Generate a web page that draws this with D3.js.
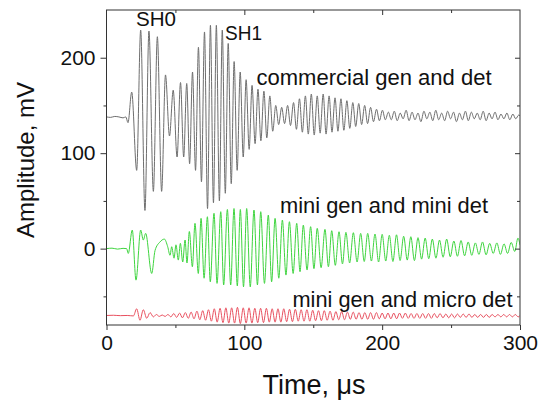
<!DOCTYPE html>
<html><head><meta charset="utf-8">
<script src="https://cdn.jsdelivr.net/npm/d3@7"></script>
<style>
html,body{margin:0;padding:0;background:#fff;}
text{font-family:"Liberation Sans",Arial,sans-serif;fill:#111;}
</style></head>
<body><svg id="chart" width="542" height="401"></svg>
<script>
// ---- data (time in µs, amplitude in mV) ----
const xTicks = [0, 100, 200, 300];
const xMinorTicks = [50, 150, 250];
const yTicks = [0, 100, 200];
const yMinorTicks = [-50, 50, 150];

const commercial = [
[0,138],[3,137.5],[6,138.5],[9,138],[12,137],[14,138],[15.6,132],
[18.3,164],[21.9,82],[24.8,229],[27.9,40],[30.8,228],[34.0,60],[36.9,222],[40.0,60],[42.8,182],[45.7,118],[48.4,166],[51.2,96],[53.7,174],[56.0,96],[58.2,173],[60.3,89],[62.4,185],[64.6,82],[66.7,211],[68.9,70],[71.1,227],[73.3,42],[75.4,234],[77.6,48],[79.7,234],[81.9,50],[84.0,229],[86.2,58],[88.3,215],[90.5,68],[92.6,196],[94.8,82],[97.0,185],[99.2,96],[101.3,177],[103.5,104],[105.6,171],[107.8,110],[109.9,167],[112.0,113],[114.2,165],[116.3,116],[118.5,160],[120.6,123],
[122.8,150],[124.9,130],[127.1,148],[129.2,131],[131.4,150],[133.5,129],[135.7,153],[137.8,125],
[140.0,157],[142.1,122],[144.3,160],[146.4,120],[148.6,162],[150.7,119],[152.9,160],[155.0,121],[157.2,162],[159.3,120],[161.5,160],[163.6,122],[165.8,158],[167.9,123],[170.1,157],[172.2,124],[174.4,155],[176.5,126],[178.7,153],[180.8,128],[183.0,152],[185.1,130],
[187.3,150],[189.4,131],[191.6,148],[193.7,133],[195.9,146],[198.0,134],[200.2,145],[202.3,135],
[204.5,143],[206.6,135],[208.8,144],[210.9,134],[213.1,142],[215.2,136],[217.4,145],[219.5,134],[221.7,143],[223.8,135],[226.0,142],[228.1,133],[230.3,144],[232.4,136],[234.6,143],[236.7,134],[238.9,145],[241.0,135],[243.2,142],[245.3,134],[247.5,144],[249.6,136],[251.8,143],[253.9,133],[256.1,142],[258.2,135],[260.4,144],[262.5,134],[264.7,143],[266.8,136],[269.0,142],[271.1,135],[273.3,144],[275.4,134],[277.6,142],[279.7,136],[281.9,143],[284.0,135],[286.2,141],[288.3,136],[290.5,142],[292.6,135],[294.8,141],[296.9,136],[299.1,140],[300,139]
];

const miniMini = [
[0,0],[4,0.5],[8,-0.5],[12,0.3],[14.6,0],[15.8,-5],[18.7,19.5],[21.4,-33],[24.8,19.5],[26.7,9],[28.4,16],[32.8,-26],[35.2,-2],[38.8,7],[42,10],[44.4,2],[46.1,-7],[47.3,2],[49,-10],[50.4,4],[52.1,-12],[53.6,5.5],[55.3,-14],[57,9],[58.4,-15],[60.1,18],[62.3,-19],[64.2,26.5],[66.6,-26],[68.6,31.7],[70.8,-31],[73.2,33.4],[75.3,-34.7],[78,37],[80.2,-36.4],[82.9,38.7],[85,-38],[87.7,41],[90.1,-38],[92.5,42],[94.9,-39],[97.1,41],[99.4,-40],[101.7,42],[104.3,-40],[107,40.4],[109.5,-38],[111.9,38.7],[114.6,-36.4],[117.4,35.2],[119.8,-34.7],[122.3,31.7],[125,-31],[127.6,30],[130.2,-27.7],[132.7,28.2],[135.4,-26],[138,26.5],[140.4,-24.2],[142.8,24.7],[145.5,-22.4],[148.1,23],[150.5,-21],[152.9,21.3],[155.7,-20],[158.5,20.2],[161,-19],[163.4,18.8],[166,-17.5],[168.7,17.7],[171.2,-16],[173.7,17.1],[176.4,-15],[179.1,16.7],[181.8,-14],[184.4,16],[187,-13.5],[189.5,16],[192.2,-13],[194.8,15.3],
[197.4,-14],[200,15],[202.6,-13],[205.2,14],[207.8,-13.5],[210.4,14.5],[213,-12.5],[215.6,13],[218.2,-12],[220.8,12.5],[223.4,-12.5],[226,11.5],[228.6,-11],[231.2,11],[233.8,-10.5],[236.4,10],[239,-10],[241.6,9],[244.2,-9],[246.8,10],[249.4,-8.5],[252,8],[254.6,-8],[257.2,8.5],[259.8,-7.5],[262.4,7],[265,-7],[267.6,6],[270.2,-6],[272.8,7],[275.4,-6.5],[278,5.5],[280.6,-5],[283.2,6],[285.8,-6],[288.4,5],[291,-5],[293.6,6.5],[296.2,-3],[298.5,11],[300,4]
];

const miniMicro = [
[0,-70],[5,-69.8],[10,-70.2],[15,-70],[19.5,-70.5],[21.9,-63],[24.3,-75],[26.7,-64],[29.2,-73],[31.6,-67],[34,-71.5],[36.2,-69],[38.3,-71],[40.4,-69.5],[42.5,-71],[44.6,-69],[46.7,-71.5],[48.8,-68],[50.9,-72],[53,-67.5],[55.1,-72.5],[57.2,-67],[59.3,-73],[61.4,-66.5],[63.5,-73.5],[65.6,-65.5],[67.7,-74.5],[69.8,-65],[71.9,-75],[74,-64],[76.1,-76],[78.2,-63],[80.3,-77],[82.4,-62.5],[84.5,-77.5],[86.6,-62],[88.7,-78],[90.8,-62],[92.9,-78],[95,-61.5],[97.1,-78.5],[99.2,-62],[101.3,-78],[103.4,-62],[105.5,-78],[107.6,-62.5],[109.7,-77.5],[111.8,-62.5],[113.9,-77.5],[116,-62.5],[118.1,-77],[120.2,-63],[122.3,-77],[124.4,-63],[126.5,-77],[128.6,-63],[130.7,-76.5],[132.8,-63.5],[134.9,-76.5],[137,-63.5],[139.1,-76],[141.2,-64],[143.3,-76],[145.4,-64],[147.5,-76],[149.6,-64.5],[151.7,-75.5],[153.8,-65],[155.9,-75.5],[158,-65],[160.1,-75],[162.2,-65.5],[164.3,-75],[166.4,-66],[168.5,-74.5],[170.6,-66],[172.7,-74.5],[174.8,-66.5],[176.9,-74],[179,-66.5],[181.1,-74],[183.2,-67],[185.3,-74],[187.4,-67],[189.5,-74],[191.6,-67],[193.7,-74],[195.8,-67],[197.9,-73.5],[200,-67.5],[202.1,-73.5],[204.2,-67.5],[206.3,-73.5],[208.4,-67.5],[210.5,-73.5],[212.6,-67.5],[214.7,-73],[216.8,-67.5],[218.9,-73],[221,-68],[223.1,-73],[225.2,-68],[227.3,-73],[229.4,-68],[231.5,-73],[233.6,-68],[235.7,-73],[237.8,-68],[239.9,-72.5],[242,-68],[244.1,-72.5],[246.2,-68.5],[248.3,-72.5],[250.4,-68.5],[252.5,-72.5],[254.6,-68.5],[256.7,-72],[258.8,-68.5],[260.9,-72],[263,-68.5],[265.1,-72],[267.2,-69],[269.3,-72],[271.4,-69],[273.5,-72],[275.6,-69],[277.7,-72],[279.8,-69],[281.9,-71.5],[284,-69],[286.1,-71.5],[288.2,-69],[290.3,-71.5],[292.4,-69],[294.5,-71.5],[296.6,-69],[298.7,-71.5],[300,-70]
];

const seriesNames = ["commercial gen and det", "mini gen and mini det", "mini gen and micro det"];
const peakLabels = ["SH0", "SH1"];

// ---- drawing ----
const svg = d3.select("#chart");
svg.append("rect").attr("width",542).attr("height",401).attr("fill","#fff");

const L = 106.5, R = 520, T = 10, B = 325;
const x = d3.scaleLinear().domain([0,300]).range([L,R]);
const y = d3.scaleLinear().domain([-80,250]).range([B,T]);

const line = d3.line().x(d=>x(d[0])).y(d=>y(d[1])).curve(d3.curveMonotoneX);

svg.append("clipPath").attr("id","clip").append("rect")
  .attr("x",L).attr("y",T).attr("width",R-L).attr("height",B-T);
const plot = svg.append("g").attr("clip-path","url(#clip)");
plot.append("path").datum(commercial).attr("d",line).attr("fill","none").attr("stroke","#6e6e6e").attr("stroke-width",1);
plot.append("path").datum(miniMini).attr("d",line).attr("fill","none").attr("stroke","#3fd43f").attr("stroke-width",1);
plot.append("path").datum(miniMicro).attr("d",line).attr("fill","none").attr("stroke","#e8505f").attr("stroke-width",1);

// axes
function styleAxis(g){
  g.select(".domain").remove();
  g.selectAll(".tick line").attr("stroke","#333").attr("stroke-width",1);
  g.selectAll(".tick text").attr("font-size",21).attr("fill","#111").attr("font-family","Liberation Sans, Arial, sans-serif");
}
svg.append("g").attr("transform",`translate(0,${B})`)
  .call(d3.axisBottom(x).tickValues(xTicks).tickSize(5).tickPadding(5).tickFormat(d3.format("d"))).call(styleAxis);
svg.append("g").attr("transform",`translate(0,${B})`)
  .call(d3.axisBottom(x).tickValues(xMinorTicks).tickSize(3).tickFormat("")).call(styleAxis);
svg.append("g").attr("transform",`translate(${L},0)`)
  .call(d3.axisLeft(y).tickValues(yTicks).tickSize(6).tickPadding(5).tickFormat(d3.format("d"))).call(styleAxis);
svg.append("g").attr("transform",`translate(${L},0)`)
  .call(d3.axisLeft(y).tickValues(yMinorTicks).tickSize(3).tickFormat("")).call(styleAxis);
svg.append("g").attr("transform",`translate(0,${T})`)
  .call(d3.axisTop(x).tickValues(xTicks.slice(1,-1)).tickSize(-5).tickFormat("")).call(styleAxis);
svg.append("g").attr("transform",`translate(0,${T})`)
  .call(d3.axisTop(x).tickValues(xMinorTicks).tickSize(-3).tickFormat("")).call(styleAxis);
svg.append("g").attr("transform",`translate(${R},0)`)
  .call(d3.axisRight(y).tickValues(yTicks).tickSize(-5).tickFormat("")).call(styleAxis);
svg.append("g").attr("transform",`translate(${R},0)`)
  .call(d3.axisRight(y).tickValues(yMinorTicks).tickSize(-3).tickFormat("")).call(styleAxis);

svg.append("rect").attr("x",L).attr("y",T).attr("width",R-L).attr("height",B-T)
  .attr("fill","none").attr("stroke","#333").attr("stroke-width",1);

// annotations
function label(txt, px, py, size, len){
  const t = svg.append("text").attr("x",px).attr("y",py).attr("font-size",size).text(txt);
  if(len) t.attr("textLength",len).attr("lengthAdjust","spacingAndGlyphs");
  return t;
}
label(peakLabels[0], 136, 26, 21, 40);
label(peakLabels[1], 225, 40, 21, 37);
label(seriesNames[0], 256.5, 84.5, 22, 235);
label(seriesNames[1], 280, 213, 22, 208);
label(seriesNames[2], 292.5, 306.5, 22, 220);

// axis titles
svg.append("text").attr("x",314).attr("y",394).attr("text-anchor","middle").attr("font-size",27).text("Time, μs");
svg.append("text").attr("transform","translate(34,160) rotate(-90)").attr("text-anchor","middle").attr("font-size",24).text("Amplitude, mV");
</script></body></html>
